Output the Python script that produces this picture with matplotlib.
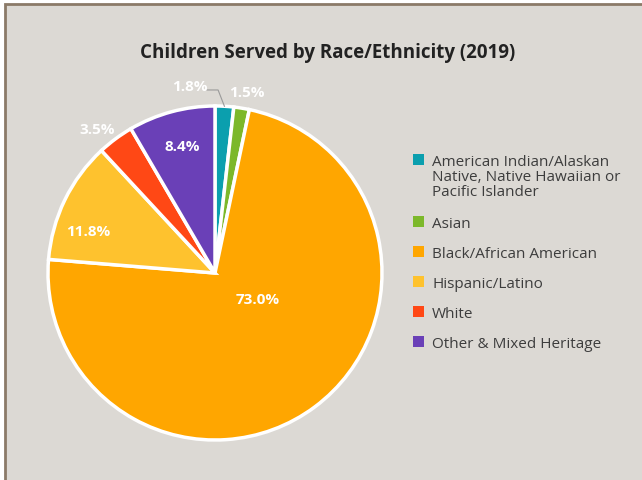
import matplotlib
matplotlib.use("Agg")
import matplotlib.pyplot as plt
from matplotlib.patches import Rectangle
import numpy as np

categories = ["American Indian/Alaskan\nNative, Native Hawaiian or\nPacific Islander",
              "Asian", "Black/African American", "Hispanic/Latino", "White",
              "Other & Mixed Heritage"]
values = [1.8, 1.5, 73.0, 11.8, 3.5, 8.4]
colors = ["#0b9fae", "#7cb82a", "#ffa600", "#fec22e", "#ff4815", "#6a40b7"]
title = "Children Served by Race/Ethnicity (2019)"

plt.rcParams['font.family'] = ['Open Sans', 'DejaVu Sans']
W, H = 642, 480
fig = plt.figure(figsize=(W/100, H/100), dpi=100)
fig.patch.set_facecolor("white")

# background panel with brown border
fig.patches.append(Rectangle((5/W, -0.1), 1.2, 1 - 4/H + 0.1, transform=fig.transFigure,
                             facecolor="#dcd9d4", edgecolor="#8b7a68", linewidth=2, zorder=-5))

fig.text(328/W, 1 - 53/H, title, ha="center", va="center", fontsize=13.5,
         fontweight="bold", color="#222222")

cx, cy, r = 215, 273, 167
ax = fig.add_axes([(cx - r)/W, (H - cy - r)/H, 2*r/W, 2*r/H])
ax.set_zorder(2)
ax.patch.set_visible(False)
wedges, _ = ax.pie(values, colors=colors, startangle=90, counterclock=False, radius=1,
                   wedgeprops=dict(edgecolor="white", linewidth=2.5))
ax.set_xlim(-1, 1); ax.set_ylim(-1, 1)
ax.set_aspect("auto")
ax.axis("off")

label_r = [1.124, 1.095, 0.304, 0.80, 1.11, 0.78]
label_dang = [11, -1, 21, 8, 3, -0.4]
for w, v, lr, da in zip(wedges, values, label_r, label_dang):
    mid = np.deg2rad((w.theta1 + w.theta2) / 2 + da)
    x, y = lr*np.cos(mid), lr*np.sin(mid)
    ax.text(x, y, f"{v:.1f}%", ha="center", va="center", color="white",
            fontsize=11, fontweight="bold")

# leader line for first small slice
w0 = wedges[0]
m0 = np.deg2rad((w0.theta1 + w0.theta2) / 2)
x0, y0 = np.cos(m0), np.sin(m0)
ax.plot([x0, x0 - 0.038, x0 - 0.104], [y0, 1.096, 1.096],
        color="#9a9a9a", linewidth=0.8, clip_on=False)

# legend
legend_y = [160, 222, 252, 282, 312, 342]
for cat, col, ly in zip(categories, colors, legend_y):
    fig.patches.append(Rectangle((413/W, 1 - (ly + 5)/H), 11/W, 11/H,
                                 transform=fig.transFigure, facecolor=col, edgecolor="none"))
    fig.text(432/W, 1 - (ly - 5)/H, cat, ha="left", va="top", fontsize=11,
             color="#3d3d3d", linespacing=1.0)

fig.savefig("out.png", dpi=100)
